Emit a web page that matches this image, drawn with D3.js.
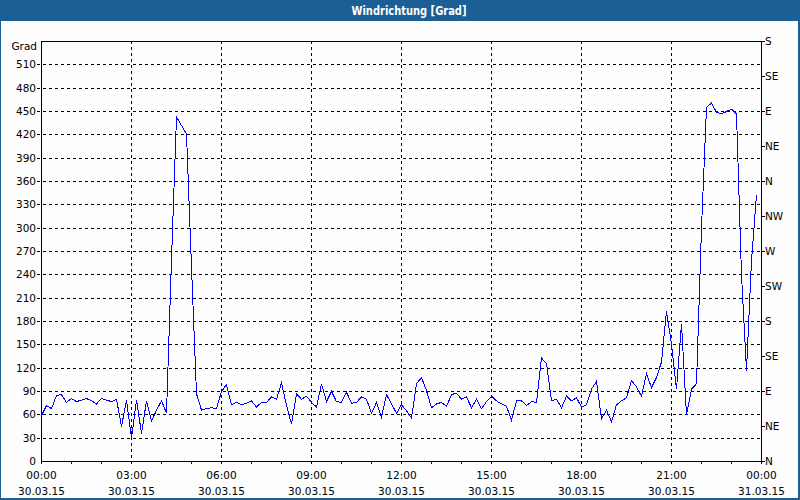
<!DOCTYPE html>
<html>
<head>
<meta charset="utf-8">
<script src="https://cdn.jsdelivr.net/npm/d3@7"></script>
<style>
  html, body { margin: 0; padding: 0; background: #fcfdfc; }
  svg { display: block; }
</style>
</head>
<body>
<svg id="chart" width="800" height="500"></svg>
<script>
// ---- data ----
const chartTitle = "Windrichtung [Grad]";
const unitLabel = "Grad";
const startTime = "2015-03-30T00:00:00";
const endTime = "2015-03-31T00:00:00";
const stepMinutes = 10;
const windDirection = [
  59, 72, 68, 85, 86, 76, 81, 77, 79, 81,
  78, 74, 81, 79, 77, 80, 45, 79, 30, 79,
  36, 78, 52, 66, 78, 62, 260, 443, 432, 421,
  250, 87, 66, 68, 69, 68, 90, 99, 73, 76,
  73, 75, 78, 70, 76, 76, 83, 80, 101, 72,
  48, 87, 80, 84, 76, 70, 100, 77, 90, 77,
  76, 89, 75, 76, 83, 80, 62, 76, 57, 86,
  74, 62, 73, 65, 56, 100, 108, 91, 69, 74,
  76, 71, 86, 88, 80, 83, 69, 80, 68, 77,
  84, 78, 74, 71, 53, 78, 78, 72, 77, 76,
  133, 126, 78, 80, 69, 84, 78, 82, 70, 73,
  93, 103, 55, 66, 51, 73, 78, 82, 104, 96,
  84, 113, 95, 108, 128, 193, 151, 93, 177, 60,
  93, 100, 300, 455, 461, 449, 447, 450, 453, 447,
  240, 117, 258, 343
];
const leftTickValues = [0, 30, 60, 90, 120, 150, 180, 210, 240, 270, 300, 330, 360, 390, 420, 450, 480, 510];
const compassTickValues = [0, 45, 90, 135, 180, 225, 270, 315, 360, 405, 450, 495, 540];
const compassLabels = ["N", "NE", "E", "SE", "S", "SW", "W", "NW", "N", "NE", "E", "SE", "S"];
const timeTickLabels = ["00:00", "03:00", "06:00", "09:00", "12:00", "15:00", "18:00", "21:00", "00:00"];
const dateTickLabels = ["30.03.15", "30.03.15", "30.03.15", "30.03.15", "30.03.15", "30.03.15", "30.03.15", "30.03.15", "31.03.15"];

// ---- layout ----
const W = 800, H = 500;
const plot = { left: 41, right: 761, top: 41, bottom: 461 };
const blue = "#1b5f95";
const font = "'DejaVu Sans', Verdana, sans-serif";

const t0 = new Date(startTime), t1 = new Date(endTime);
const series = windDirection.map((v, i) => ({ t: d3.timeMinute.offset(t0, i * stepMinutes), v }));

const x = d3.scaleTime().domain([t0, t1]).range([plot.left, plot.right]);
const y = d3.scaleLinear().domain([0, 540]).range([plot.bottom, plot.top]);

const svg = d3.select("#chart");
const px = v => Math.round(v) + 0.5;

// background
svg.append("rect").attr("x", 0).attr("y", 0).attr("width", W).attr("height", H).attr("fill", "#fcfdfc");

// title bar
svg.append("rect").attr("x", 0).attr("y", 0).attr("width", W).attr("height", 21).attr("fill", blue);
svg.append("text").attr("x", 409).attr("y", 14.5).attr("text-anchor", "middle")
  .attr("fill", "#ffffff").attr("font-family", "'DejaVu Sans', sans-serif")
  .attr("font-weight", "bold").attr("font-size", 12)
  .attr("textLength", 115).attr("lengthAdjust", "spacingAndGlyphs")
  .text(chartTitle);

// window border
svg.append("rect").attr("x", 0.5).attr("y", 0.5).attr("width", W - 1).attr("height", H - 1)
  .attr("fill", "none").attr("stroke", blue).attr("stroke-width", 1);
svg.append("line").attr("x1", 0).attr("x2", W).attr("y1", 498.5).attr("y2", 498.5).attr("stroke", blue);
svg.append("line").attr("x1", 798.5).attr("x2", 798.5).attr("y1", 0).attr("y2", H).attr("stroke", blue);

const g = svg.append("g").attr("shape-rendering", "crispEdges");

// horizontal grid (dashed) incl. left tick stubs
g.selectAll(".hgrid").data(leftTickValues.filter(d => d > 0)).join("line")
  .attr("x1", plot.left - 4).attr("x2", plot.right)
  .attr("y1", d => px(y(d))).attr("y2", d => px(y(d)))
  .attr("stroke", "#000").attr("stroke-dasharray", "3,3");

// vertical grid (dashed)
const hourTicks = d3.timeHour.every(1).range(t0, d3.timeMinute.offset(t1, 1));
const majorTicks = d3.timeHour.every(3).range(t0, d3.timeMinute.offset(t1, 1));
g.selectAll(".vgrid").data(majorTicks.slice(1, -1)).join("line")
  .attr("x1", d => px(x(d))).attr("x2", d => px(x(d)))
  .attr("y1", plot.top).attr("y2", plot.bottom)
  .attr("stroke", "#000").attr("stroke-dasharray", "3,3");

// hourly ticks on x axis
g.selectAll(".xtick").data(hourTicks).join("line")
  .attr("x1", d => px(x(d))).attr("x2", d => px(x(d)))
  .attr("y1", plot.bottom).attr("y2", plot.bottom + 3)
  .attr("stroke", "#000");

// right ticks
g.selectAll(".rtick").data(compassTickValues).join("line")
  .attr("x1", plot.right).attr("x2", plot.right + 4)
  .attr("y1", d => px(y(d))).attr("y2", d => px(y(d)))
  .attr("stroke", "#000");

// frame
g.append("line").attr("x1", px(plot.left)).attr("x2", px(plot.left)).attr("y1", plot.top).attr("y2", plot.bottom + 1).attr("stroke", "#000");
g.append("line").attr("x1", px(plot.right)).attr("x2", px(plot.right)).attr("y1", plot.top).attr("y2", plot.bottom + 1).attr("stroke", "#000");
g.append("line").attr("x1", plot.left).attr("x2", plot.right + 1).attr("y1", px(plot.top)).attr("y2", px(plot.top)).attr("stroke", "#000");
g.append("line").attr("x1", plot.left).attr("x2", plot.right + 1).attr("y1", px(plot.bottom)).attr("y2", px(plot.bottom)).attr("stroke", "#000");

// data line
const line = d3.line().x(d => x(d.t) + 0.5).y(d => y(d.v) + 0.5);
svg.append("path").datum(series).attr("d", line)
  .attr("fill", "none").attr("stroke", "#0000ff").attr("stroke-width", 1)
  .attr("shape-rendering", "crispEdges");

// left labels
svg.selectAll(".ylab").data(leftTickValues).join("text")
  .attr("x", 36).attr("y", d => y(d) + 4).attr("text-anchor", "end")
  .attr("font-family", font).attr("font-size", 10.5).attr("fill", "#000")
  .text(d => d);
svg.append("text").attr("x", 37).attr("y", 50).attr("text-anchor", "end")
  .attr("font-family", font).attr("font-size", 10.5).attr("fill", "#000").text(unitLabel);

// right labels
svg.selectAll(".rlab").data(compassTickValues).join("text")
  .attr("x", 765).attr("y", (d) => y(d) + 4).attr("text-anchor", "start")
  .attr("font-family", font).attr("font-size", 10.5).attr("fill", "#000")
  .text((d, i) => compassLabels[i]);

// bottom labels
svg.selectAll(".tlab").data(majorTicks).join("text")
  .attr("x", d => x(d) + 0.5).attr("y", 479).attr("text-anchor", "middle")
  .attr("font-family", font).attr("font-size", 10.5).attr("fill", "#000")
  .text((d, i) => timeTickLabels[i]);
svg.selectAll(".dlab").data(majorTicks).join("text")
  .attr("x", d => x(d) + 0.5).attr("y", 495).attr("text-anchor", "middle")
  .attr("font-family", font).attr("font-size", 10.5).attr("fill", "#000")
  .text((d, i) => dateTickLabels[i]);
</script>
</body>
</html>
